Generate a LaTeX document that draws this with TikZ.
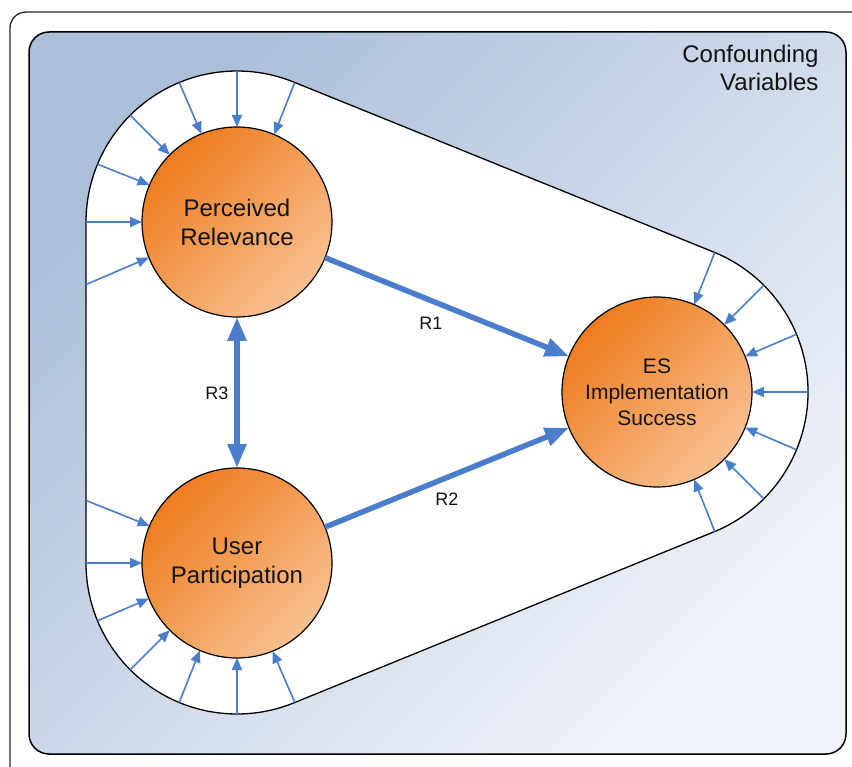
\documentclass[tikz,border=0pt]{standalone}
\usepackage{fontspec}
\setmainfont{Liberation Sans}
\usetikzlibrary{arrows.meta,calc}
\definecolor{bgblue}{RGB}{171,191,217}
\definecolor{bglight}{RGB}{240,243,250}
\definecolor{orgdark}{RGB}{238,124,30}
\definecolor{orglight}{RGB}{249,192,145}
\definecolor{arrblue}{RGB}{74,126,204}
\definecolor{txt}{RGB}{20,20,20}
\begin{document}
\begin{tikzpicture}[x=1pt,y=1pt,
  var/.style={circle, draw=black, line width=1.2pt, minimum size=190pt, inner sep=0pt, outer sep=0pt,
    top color=orgdark, bottom color=orglight, shading angle=45, align=center,
    font=\fontsize{24}{29}\selectfont, text=txt},
  smallarr/.style={draw=arrblue, line width=1.6pt, -{Triangle[length=12pt,width=10pt]}},
  bigarr/.style={draw=arrblue, line width=5.5pt, -{Triangle[length=24pt,width=18pt]}},
  lab/.style={font=\fontsize{18}{20}\selectfont, text=txt}
]
\useasboundingbox (0,0) rectangle (852,-767);
\begin{scope}
  \clip (0,0) rectangle (852,-767);
  \draw[line width=1.3pt, draw=black!85, rounded corners=16pt] (10,-12) rectangle (890,-800);
\end{scope}
% blue panel
\draw[line width=1.5pt, rounded corners=20pt, top color=bgblue, middle color=bgblue, bottom color=bglight, shading angle=45]
  (29,-32) rectangle (846,-754);
\node[anchor=east, align=right, lab, font=\fontsize{24}{28}\selectfont] (cv) at (822,-68) {Confounding\\Variables};
% centres
\coordinate (p) at (237,-222);
\coordinate (u) at (237,-563);
\coordinate (e) at (657,-392);
% white hull
\filldraw[fill=white, draw=black, line width=1.3pt]
  ($(p)+(67.96:151pt)$) arc[start angle=67.96, end angle=180, radius=151pt]
  -- ($(u)+(180:151pt)$) arc[start angle=180, end angle=292.15, radius=151pt]
  -- ($(e)+(-67.85:151pt)$) arc[start angle=-67.85, end angle=67.96, radius=151pt]
  -- cycle;
% nodes
\node[var] (PR) at (p) {Perceived\\Relevance};
\node[var] (UP) at (u) {User\\Participation};
\node[var, font=\fontsize{21}{26}\selectfont] (ES) at (e) {ES\\Implementation\\Success};
% small arrows
\foreach \a in {67.5,90,...,180}
  \draw[smallarr] ($(p)+(\a:151pt)$) -- (PR.\a);
\draw[smallarr] ($(p)+(202.5:163.4pt)$) -- (PR.202.5);
\foreach \a in {180,202.5,...,292.5}
  \draw[smallarr] ($(u)+(\a:151pt)$) -- (UP.\a);
\draw[smallarr] ($(u)+(157.5:163.4pt)$) -- (UP.157.5);
\foreach \a in {-67.5,-45,...,67.5}
  \draw[smallarr] ($(e)+(\a:151pt)$) -- (ES.\a);
% relations
\draw[bigarr] (PR) -- (ES);
\draw[bigarr] (UP) -- (ES);
\draw[bigarr, {Triangle[length=24pt,width=18pt]}-{Triangle[length=24pt,width=18pt]}] (PR) -- (UP);
\node[lab] (r1) at (431,-323) {R1};
\node[lab] (r2) at (447,-499) {R2};
\node[lab] (r3) at (217,-393) {R3};
\end{tikzpicture}
\end{document}
